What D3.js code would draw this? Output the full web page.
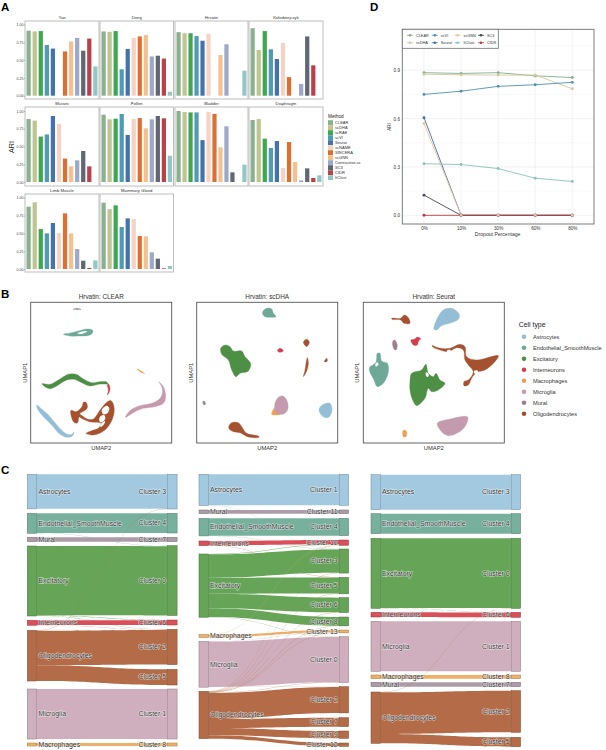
<!DOCTYPE html>
<html><head><meta charset="utf-8">
<script src="https://cdn.jsdelivr.net/npm/d3@7"></script>
<style>html,body{margin:0;padding:0;background:#fff}svg{display:block}text{font-family:"Liberation Sans",Arial,sans-serif}</style>
</head><body><svg id="c" width="606" height="750"></svg>
<script>
// ---------- Panel A data ----------
const methods = ["CLEAR","scDHA","scRAE","scVI","Seurat","scNAME","SINCERA","scGNN","Contrastive-sc","SC3","CIDR","ItClust"];
const methodColors = ["#8ab18e","#bfc592","#3fa74f","#4f9ab5","#4273b0","#f6d2c4","#dc7034","#f4c08f","#9da9c7","#5f6675","#b7424a","#93c7c7"];
const facets = ["Yan","Dong","Hrvatin","Kolodziejczyk","Muraro","Pollen","Bladder","Diaphragm","Limb Muscle","Mammary Gland"];
const ariYan = [.91,.90,.905,.71,.66,0,.62,.76,.81,.63,.80,.41];
const ariDong = [.90,.895,.905,.37,.655,.81,.83,.85,.55,.56,.52,.055];
const ariHrvatin = [.89,.875,.875,.835,.77,.865,0,.57,.72,0,0,.35];
const ariKolod = [.945,.64,.905,.65,.515,.74,.26,0,.165,.83,.425,0];
const ariMuraro = [.887,.865,.64,.67,.93,.817,.33,.22,.305,.437,.22,0];
const ariPollen = [.948,.883,.892,.958,.662,.887,.90,.756,.883,.93,.897,.37];
const ariBladder = [1.0,.986,.98,.98,.59,.986,.96,.488,.784,.136,0,.244];
const ariDiaphragm = [.873,.887,.61,.479,.577,.197,.563,.282,.023,.192,.056,.094];
const ariLimb = [.874,.935,.56,.50,.645,.505,.78,.50,.28,.117,.014,.12];
const ariMammary = [.93,.84,.893,.589,.71,.70,.463,.458,.234,.145,.01,.042];
const ariAll = [ariYan,ariDong,ariHrvatin,ariKolod,ariMuraro,ariPollen,ariBladder,ariDiaphragm,ariLimb,ariMammary];
const ariTicks = [0,.25,.5,.75,1];

// ---------- Panel D data ----------
const dropout = ["0%","10%","30%","60%","80%"];
const dMethods = ["CLEAR","scDHA","scVI","Seurat","scGNN","ItClust","SC3","CIDR"];
const dColors = ["#84ad90","#cfca9f","#4d93ae","#3f6fa9","#eec39c","#8cc1be","#454a56","#b93a42"];
const dCLEAR = [.885,.88,.885,.865,.855];
const dScDHA = [.875,.872,.87,.87,.785];
const dScVI = [.75,.77,.80,.81,.825];
const dSeurat = [.605,0,0,0,0];
const dScGNN = [.57,0,0,0,0];
const dItClust = [.32,.315,.29,.23,.21];
const dSC3 = [.125,0,0,0,0];
const dCIDR = [0,0,0,0,0];
const dSeries = [dCLEAR,dScDHA,dScVI,dSeurat,dScGNN,dItClust,dSC3,dCIDR];

// ---------- Panel B data (UMAP outlines, in UMAP units; "gap" = empty area inside a cluster) ----------
const cellTypes = ["Astrocytes","Endothelial_SmoothMuscle","Excitatory","Interneurons","Macrophages","Microglia","Mural","Oligodendrocytes"];
const cellColors = ["#94bed6","#6ea897","#4d8f45","#d03f4c","#eba155","#c39aae","#9a8290","#a5502e"];
const umapClear = [
 ["Mural",[[219,73],[230,70],[243,73],[232,74]]],
 ["Endothelial_SmoothMuscle",[[190,148],[215,143],[238,137],[262,132],[278,136],[276,146],[262,152],[240,153],[210,153]]],
 ["gap",[[232,145],[250,139],[262,139],[245,147]]],
 ["Excitatory",[[126,296],[150,298],[175,285],[205,268],[228,268],[250,282],[275,293],[300,290],[320,291],[326,300],[322,298],[295,298],[270,303],[245,293],[222,283],[200,285],[170,303],[150,311],[135,305]]],
 ["Interneurons",[[326,298],[330,315],[322,330],[325,315],[322,300]]],
 ["Macrophages",[[411,252],[422,257],[434,266],[420,260]]],
 ["Microglia",[[476,290],[490,305],[497,335],[490,355],[465,365],[430,370],[405,380],[376,397],[392,375],[420,362],[455,355],[478,342],[487,325],[485,305]]],
 ["Astrocytes",[[110,360],[125,372],[150,395],[175,425],[200,447],[215,448],[222,440],[218,452],[200,457],[180,448],[155,420],[130,395],[113,373]]],
 ["Oligodendrocytes",[[250,352],[258,352],[262,368],[252,378],[240,385],[236,400],[232,414],[222,412],[214,395],[213,376],[228,380],[240,372],[247,362]]],
 ["Oligodendrocytes",[[322,350],[333,347],[342,365],[338,400],[315,435],[280,450],[258,445],[275,437],[295,430],[303,415],[290,412],[268,410],[250,403],[235,392],[238,388],[262,402],[280,402],[298,378],[312,360]]],
 ["gap",[[305,375],[320,362],[328,370],[322,385],[310,388]]],
 ["gap",[[300,395],[312,390],[316,400],[305,412],[298,408]]],
 ["gap",[[300,420],[315,408],[312,418],[302,426]]]
];
const umapScDHA = [
 ["Endothelial_SmoothMuscle",[[788,80],[800,70],[815,72],[820,85],[828,95],[808,97],[795,95],[788,88]]],
 ["Excitatory",[[662,190],[675,180],[690,185],[700,198],[725,198],[735,215],[752,235],[745,258],[720,265],[708,275],[695,255],[685,225],[665,208]]],
 ["Interneurons",[[832,197],[840,190],[850,197],[840,202]]],
 ["Oligodendrocytes",[[910,172],[920,163],[928,172],[920,185]]],
 ["Oligodendrocytes",[[922,218],[925,235],[920,258],[910,275],[915,255],[918,235]]],
 ["Oligodendrocytes",[[973,230],[980,220],[982,228],[976,231]]],
 ["Mural",[[608,350],[612,348],[617,357],[612,360]]],
 ["Macrophages",[[825,368],[815,388],[830,390],[840,388]]],
 ["Microglia",[[825,355],[835,337],[848,333],[860,345],[864,370],[855,385],[838,388],[825,375]]],
 ["Oligodendrocytes",[[686,425],[695,413],[715,413],[725,425],[740,445],[775,453],[777,457],[745,456],[720,443],[700,440],[688,433]]],
 ["Astrocytes",[[957,372],[970,358],[990,355],[996,375],[988,395],[975,398],[962,388]]]
];
const umapSeurat = [
 ["Oligodendrocytes",[[275,100],[302,100],[313,90],[325,98],[330,115],[312,115],[302,105],[276,103]]],
 ["Astrocytes",[[402,133],[412,100],[430,75],[455,70],[478,88],[475,103],[450,115],[425,122],[410,135]]],
 ["Mural",[[278,170],[284,165],[292,180],[288,195],[282,192]]],
 ["Interneurons",[[333,165],[345,162],[350,157],[362,160],[355,170],[352,180],[342,181],[335,173]]],
 ["Oligodendrocytes",[[396,182],[420,190],[450,190],[480,178],[495,185],[500,215],[530,225],[595,212],[585,230],[555,255],[530,262],[515,280],[505,300],[492,302],[492,290],[505,285],[520,260],[505,240],[495,225],[490,195],[470,188],[445,200],[420,195],[400,187]]],
 ["gap",[[440,198],[450,194],[453,200],[444,204]]],
 ["gap",[[522,258],[532,256],[534,264],[526,268]]],
 ["Endothelial_SmoothMuscle",[[208,250],[228,232],[232,205],[240,205],[245,228],[262,235],[265,262],[250,295],[232,305],[222,285]]],
 ["gap",[[226,238],[232,232],[236,238],[228,245]]],
 ["Excitatory",[[330,290],[335,265],[365,255],[378,238],[385,265],[400,275],[408,265],[420,285],[435,295],[415,315],[395,320],[385,310],[375,340],[350,362],[338,345],[330,315]]],
 ["gap",[[378,262],[386,266],[384,276],[378,272]]],
 ["Macrophages",[[308,440],[313,435],[320,440],[318,455],[310,455]]],
 ["Microglia",[[412,415],[450,402],[503,396],[495,425],[470,445],[445,452],[425,440]]]
];
const umapExtentsX = [[92,515],[590,1013],[190,613]];
const umapExtentY = [52,474];

// ---------- Panel C data ----------
const sankeyColors = {Astrocytes:"#a3c9e0",Endothelial_SmoothMuscle:"#78b09e",Mural:"#ab9ca8",Excitatory:"#66a558",Interneurons:"#d9505a",Oligodendrocytes:"#b46c48",Microglia:"#cfafbd",Macrophages:"#edb068"};
const s1Flows = [
 ["Astrocytes","Cluster 3",103],["Astrocytes","Cluster 0",.6],["Endothelial_SmoothMuscle","Cluster 4",59],["Endothelial_SmoothMuscle","Cluster 0",.8],
 ["Mural","Cluster 7",13],["Excitatory","Cluster 0",208],["Excitatory","Cluster 6",1],["Excitatory","Cluster 2",1],
 ["Interneurons","Cluster 6",14],["Interneurons","Cluster 2",.8],["Oligodendrocytes","Cluster 3",1],["Oligodendrocytes","Cluster 2",104],["Oligodendrocytes","Cluster 5",47],
 ["Microglia","Cluster 1",150],["Macrophages","Cluster 8",9]];
const s1Left = ["Astrocytes","Endothelial_SmoothMuscle","Mural","Excitatory","Interneurons","Oligodendrocytes","Microglia","Macrophages"];
const s1Right = ["Cluster 3","Cluster 4","Cluster 7","Cluster 0","Cluster 6","Cluster 2","Cluster 5","Cluster 1","Cluster 8"];
const s1LeftTop = [43,160,232,258,481,511,687,849];
const s1RightTop = [43,160,232,257,480,508,628,687,849];
const s2Flows = [
 ["Astrocytes","Cluster 1",93],["Astrocytes","Cluster 3",.7],["Mural","Cluster 11",11],["Endothelial_SmoothMuscle","Cluster 4",52],["Endothelial_SmoothMuscle","Cluster 3",.8],
 ["Interneurons","Cluster 10",13],["Interneurons","Cluster 5",.8],["Excitatory","Cluster 10",1],["Excitatory","Cluster 3",70],["Excitatory","Cluster 5",48],["Excitatory","Cluster 6",44],["Excitatory","Cluster 8",26],["Excitatory","Cluster 0",.7],
 ["Macrophages","Cluster 10",1],["Macrophages","Cluster 13",7],["Microglia","Cluster 13",.8],["Microglia","Cluster 0",136],["Microglia","Cluster 2",.7],
 ["Oligodendrocytes","Cluster 10",.7],["Oligodendrocytes","Cluster 3",.7],["Oligodendrocytes","Cluster 5",.7],["Oligodendrocytes","Cluster 6",.7],["Oligodendrocytes","Cluster 8",.7],["Oligodendrocytes","Cluster 13",.7],["Oligodendrocytes","Cluster 0",.7],
 ["Oligodendrocytes","Cluster 2",78],["Oligodendrocytes","Cluster 7",27],["Oligodendrocytes","Cluster 9",22],["Oligodendrocytes","Cluster 12",10]];
const s2Left = ["Astrocytes","Mural","Endothelial_SmoothMuscle","Interneurons","Excitatory","Macrophages","Microglia","Oligodendrocytes"];
const s2Right = ["Cluster 1","Cluster 11","Cluster 4","Cluster 10","Cluster 3","Cluster 5","Cluster 6","Cluster 8","Cluster 13","Cluster 0","Cluster 2","Cluster 7","Cluster 9","Cluster 12"];
const s2LeftTop = [43,150,175,243,282,524,544,694];
const s2RightTop = [43,150,175,240,267,352,413,471,510,530,680,773,813,849];
const s3Flows = [
 ["Astrocytes","Cluster 3",105],["Endothelial_SmoothMuscle","Cluster 4",60],["Excitatory","Cluster 0",209],["Excitatory","Cluster 6",1],["Interneurons","Cluster 6",14],
 ["Microglia","Cluster 1",150],["Macrophages","Cluster 8",11],["Mural","Cluster 7",13],["Oligodendrocytes","Cluster 0",1],["Oligodendrocytes","Cluster 2",125],["Oligodendrocytes","Cluster 5",28]];
const s3Left = ["Astrocytes","Endothelial_SmoothMuscle","Excitatory","Interneurons","Microglia","Macrophages","Mural","Oligodendrocytes"];
const s3Right = ["Cluster 3","Cluster 4","Cluster 0","Cluster 6","Cluster 1","Cluster 8","Cluster 7","Cluster 2","Cluster 5"];
const s3LeftTop = [44,161,235,457,484,645,667,696];
const s3RightTop = [44,161,235,457,484,645,667,692,832];

const svg = d3.select("#c");
const FS = '"Liberation Sans",Arial,sans-serif';
function label(x,y,t,size,opts={}){
  const e = svg.append("text").attr("x",x).attr("y",y).text(t).attr("font-size",size).attr("fill",opts.fill||"#222")
    .attr("text-anchor",opts.anchor||"start").attr("font-weight",opts.weight||"normal");
  if(opts.rotate) e.attr("transform",`rotate(${opts.rotate} ${x} ${y})`);
  return e;
}
label(1,10.5,"A",11.5,{weight:"bold",fill:"#000"});
label(370,10.5,"D",11.5,{weight:"bold",fill:"#000"});
label(1,298,"B",11.5,{weight:"bold",fill:"#000"});
label(1,474,"C",11.5,{weight:"bold",fill:"#000"});

// ---------- Panel A ----------
const colX = [[25,99],[100,173.5],[175,248],[249,323]];
const rowY = [[21,99,95.7,24.3],[107,186,182,111],[194,272,269,197.7]];
facets.forEach((name,i)=>{
  const r = Math.floor(i/4), c = i%4;
  const [x0,x1] = colX[c], [top,bot,y0,y1] = rowY[r];
  const x = d3.scaleBand().domain(methods).range([x0,x1]).paddingInner(.3).paddingOuter(.25);
  const y = d3.scaleLinear().domain([0,1]).range([y0,y1]);
  const g = svg.append("g");
  g.selectAll("rect.b").data(ariAll[i]).join("rect").attr("class","b")
    .attr("x",(d,j)=>x(methods[j])).attr("width",x.bandwidth())
    .attr("y",d=>y(d)).attr("height",d=>y(0)-y(d)).attr("fill",(d,j)=>methodColors[j]);
  g.append("rect").attr("x",x0).attr("y",top).attr("width",x1-x0).attr("height",bot-top)
    .attr("fill","none").attr("stroke","#bdbdbd").attr("stroke-width",1);
  label((x0+x1)/2,top-2,name,4.25,{anchor:"middle",fill:"#333"});
  if(c===0){
    const ax = g.append("g").attr("transform",`translate(${x0},0)`)
      .call(d3.axisLeft(y).tickValues(ariTicks).tickFormat(d3.format(".2f")).tickSize(1).tickPadding(.6));
    ax.select(".domain").remove();
    ax.selectAll("text").attr("font-size",3.6).attr("fill","#444").attr("font-family",FS);
    ax.selectAll("line").attr("stroke","#666").attr("stroke-width",.4);
  }
});
label(14,147,"ARI",7.2,{anchor:"middle",rotate:-90,fill:"#222"});
label(328,117.8,"Method",4.7,{fill:"#222"});
const legA = d3.scaleBand().domain(methods).range([120.2,180.2]);
svg.append("g").selectAll("rect").data(methods).join("rect")
  .attr("x",328).attr("y",d=>legA(d)).attr("width",5).attr("height",legA.bandwidth()-.2)
  .attr("fill",(d,i)=>methodColors[i]);
svg.append("g").selectAll("text").data(methods).join("text")
  .attr("x",335).attr("y",d=>legA(d)+legA.bandwidth()/2+1.4).text(d=>d)
  .attr("font-size",4.05).attr("fill","#333");

// ---------- Panel D ----------
(function(){
  const L=402.3,R=594,T=29.3,B=224;
  const x = d3.scalePoint().domain(dropout).range([424,572.3]);
  const y = d3.scaleLinear().domain([-.054,1.154]).range([B,T]);
  const g = svg.append("g");
  const minor=[.15,.45,.75,1.05], major=[0,.3,.6,.9];
  g.selectAll("line.mi").data(minor).join("line").attr("x1",L).attr("x2",R).attr("y1",d=>y(d)).attr("y2",d=>y(d)).attr("stroke","#f3f3f3").attr("stroke-width",.5);
  g.selectAll("line.ma").data(major).join("line").attr("x1",L).attr("x2",R).attr("y1",d=>y(d)).attr("y2",d=>y(d)).attr("stroke","#ececec").attr("stroke-width",.7);
  g.selectAll("line.vx").data(dropout).join("line").attr("x1",d=>x(d)).attr("x2",d=>x(d)).attr("y1",T).attr("y2",B).attr("stroke","#ececec").attr("stroke-width",.7);
  const line = d3.line().x((d,i)=>x(dropout[i])).y(d=>y(d));
  g.selectAll("path.s").data(dSeries).join("path").attr("d",line).attr("fill","none")
    .attr("stroke",(d,i)=>dColors[i]).attr("stroke-width",.9);
  const order=[7,0,1,2,3,5,6,4];
  order.forEach(k=>{
    g.selectAll(null).data(dSeries[k]).join("circle").attr("cx",(d,i)=>x(dropout[i])).attr("cy",d=>y(d)).attr("r",1.45).attr("fill",dColors[k]);
  });
  g.append("rect").attr("x",L).attr("y",T).attr("width",R-L).attr("height",B-T).attr("fill","none").attr("stroke","#6e6e6e").attr("stroke-width",.9);
  const ay = g.append("g").attr("transform",`translate(${L},0)`).call(d3.axisLeft(y).tickValues(major).tickFormat(d3.format(".1f")).tickSize(0).tickPadding(2.3));
  ay.select(".domain").remove(); ay.selectAll("text").attr("font-size",4.6).attr("fill","#333").attr("font-family",FS);
  const ax = g.append("g").attr("transform",`translate(0,${B})`).call(d3.axisBottom(x).tickSize(0).tickPadding(2.5));
  ax.select(".domain").remove(); ax.selectAll("text").attr("font-size",4.6).attr("fill","#333").attr("font-family",FS);
  label((L+R)/2-0.5,236,"Dropout Percentage",5.1,{anchor:"middle",fill:"#333"});
  label(390.5,127,"ARI",4.5,{anchor:"middle",rotate:-90,fill:"#333"});
  g.append("rect").attr("x",L).attr("y",T).attr("width",96).attr("height",19).attr("fill","#fff").attr("stroke","#6e6e6e").attr("stroke-width",.8);
  const lx=[410,434.8,457.5,481], ly=[35.3,42.7];
  dMethods.forEach((m,i)=>{
    const cx=lx[Math.floor(i/2)], cy=ly[i%2];
    g.append("line").attr("x1",cx-3).attr("x2",cx+3).attr("y1",cy).attr("y2",cy).attr("stroke",dColors[i]).attr("stroke-width",.8);
    g.append("circle").attr("cx",cx).attr("cy",cy).attr("r",1.3).attr("fill",dColors[i]);
    label(cx+6,cy+1.3,m,3.8,{fill:"#333"});
  });
})();

// ---------- Panel B ----------
const bTitles=["Hrvatin: CLEAR","Hrvatin: scDHA","Hrvatin: Seurat"];
const bFrames=[30.7,196.7,363.3];
const cellColor = d3.scaleOrdinal().domain(cellTypes).range(cellColors);
[umapClear,umapScDHA,umapSeurat].forEach((shapes,i)=>{
  const L=bFrames[i],W=141,T=302.3,H=140.7;
  const x=d3.scaleLinear().domain(umapExtentsX[i]).range([L,L+W]);
  const y=d3.scaleLinear().domain(umapExtentY).range([T,T+H]);
  const path=d3.line().x(d=>x(d[0])).y(d=>y(d[1])).curve(d3.curveCatmullRomClosed.alpha(.5));
  const g=svg.append("g");
  g.selectAll("path").data(shapes).join("path").attr("d",d=>path(d[1]))
    .attr("fill",d=>d[0]==="gap"?"#fff":cellColor(d[0]))
    .attr("stroke",d=>d[0]==="gap"?"none":cellColor(d[0])).attr("stroke-width",.35);
  g.append("rect").attr("x",L).attr("y",T).attr("width",W).attr("height",H).attr("fill","none").attr("stroke","#555").attr("stroke-width",.9);
  label(L+W/2,299.2,bTitles[i],6.4,{anchor:"middle",fill:"#333"});
  label(L+W/2,449.7,"UMAP2",5.8,{anchor:"middle",fill:"#333"});
  label(L-4,T+H/2,"UMAP1",5.8,{anchor:"middle",rotate:-90,fill:"#333"});
});
label(518.7,327.3,"Cell type",6.9,{fill:"#222"});
const legB=d3.scalePoint().domain(cellTypes).range([336.7,413.7]);
svg.append("g").selectAll("circle").data(cellTypes).join("circle").attr("cx",524).attr("cy",d=>legB(d)).attr("r",2.3).attr("fill",d=>cellColor(d));
svg.append("g").selectAll("text").data(cellTypes).join("text").attr("x",533).attr("y",d=>legB(d)+2).text(d=>d).attr("font-size",5.67).attr("fill","#333");

// ---------- Panel C ----------
function sankey(flows,left,right,leftTop,rightTop,xs){
  const y=d3.scaleLinear().domain([0,290*3]).range([460,750]);
  const k=d3.scaleLinear().domain([0,3]).range([0,1]);
  const lt=new Map(left.map((n,i)=>[n,leftTop[i]]));
  const rt=new Map(right.map((n,i)=>[n,rightTop[i]]));
  const outs=d3.group(flows,d=>d[0]), ins=d3.group(flows,d=>d[1]);
  const links=flows.map(f=>({s:f[0],t:f[1],v:f[2]}));
  links.forEach(l=>{
    let o=0; for(const f of outs.get(l.s).slice().sort((a,b)=>rt.get(a[1])-rt.get(b[1]))){ if(f[1]===l.t)break; o+=f[2]; }
    l.y0=y(lt.get(l.s)+o);
    let o2=0; for(const f of ins.get(l.t).slice().sort((a,b)=>lt.get(a[0])-lt.get(b[0]))){ if(f[0]===l.s)break; o2+=f[2]; }
    l.y1=y(rt.get(l.t)+o2);
    l.h=k(l.v);
  });
  const g=svg.append("g");
  const [x0,x1,x2,x3]=xs, xm=(x1+x2)/2;
  g.selectAll("path").data(links).join("path")
    .attr("d",l=>{
      const p=d3.path();
      p.moveTo(x1,l.y0);
      p.bezierCurveTo(xm,l.y0,xm,l.y1,x2,l.y1);
      p.lineTo(x2,l.y1+l.h);
      p.bezierCurveTo(xm,l.y1+l.h,xm,l.y0+l.h,x1,l.y0+l.h);
      p.closePath(); return p.toString();
    })
    .attr("fill",l=>sankeyColors[l.s]).attr("fill-opacity",l=>l.v<2?.85:1);
  const nodeFill=(n,side)=>side===0?sankeyColors[n]:d3.color(sankeyColors[links.filter(l=>l.t===n).sort((a,b)=>b.v-a.v)[0].s]).formatHex();
  [[left,x0,lt,outs,0],[right,x2,rt,ins,1]].forEach(([names,xx,tops,groups,side])=>{
    names.forEach(n=>{
      const h=k(d3.sum(groups.get(n),f=>f[2]));
      const c=nodeFill(n,side);
      g.append("rect").attr("x",xx).attr("y",y(tops.get(n))).attr("width",x1-x0).attr("height",h)
        .attr("fill",c).attr("stroke",d3.color(c).darker(1.1)).attr("stroke-width",.5);
      const t=g.append("text").attr("y",y(tops.get(n))+h/2+2.3).text(n).attr("font-size",6.9)
        .attr("fill","#333").attr("stroke","rgba(255,255,255,.75)").attr("stroke-width",.9).attr("paint-order","stroke");
      if(side===0) t.attr("x",x1+1.7); else t.attr("x",x2-1.7).attr("text-anchor","end");
    });
  });
}
sankey(s1Flows,s1Left,s1Right,s1LeftTop,s1RightTop,[27.3,36.7,167.7,177]);
sankey(s2Flows,s2Left,s2Right,s2LeftTop,s2RightTop,[199,208.3,339.3,348.7]);
sankey(s3Flows,s3Left,s3Right,s3LeftTop,s3RightTop,[371,380.3,511.3,520.7]);
</script></body></html>
